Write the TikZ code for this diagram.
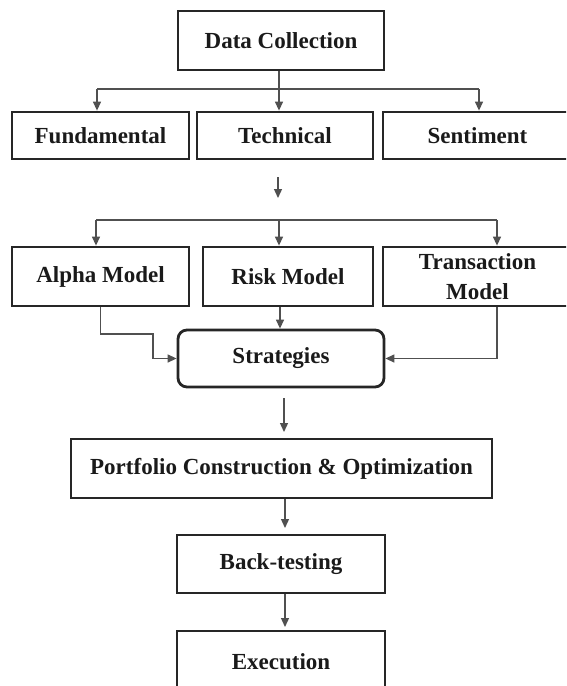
\documentclass[tikz,border=0pt]{standalone}
\usepackage{fontspec}
\setmainfont{Liberation Serif}
\usetikzlibrary{arrows.meta}
\definecolor{boxc}{HTML}{262626}
\definecolor{linec}{HTML}{505050}
\definecolor{txt}{HTML}{1A1A1A}
\begin{document}
\begin{tikzpicture}[x=1pt,y=-1pt,
  box/.style={draw=boxc, line width=2.8pt, fill=white, text=txt, inner sep=0pt, align=center,
              font=\bfseries\fontsize{23}{30}\selectfont},
  conn/.style={draw=linec, line width=1.3pt},
  arr/.style={conn, -{Triangle[length=9pt,width=8pt]}}]
\useasboundingbox (0,0) rectangle (566,686);
\clip (0,0) rectangle (566,686);
\fill[white] (0,0) rectangle (566,686);

% nodes
\node[box, minimum width=206pt, minimum height=59pt] (dc) at (281,40.5) {Data Collection};
\node[box, minimum width=177pt, minimum height=47pt] (fund) at (100.5,135.5) {Fundamental};
\node[box, minimum width=176pt, minimum height=47pt] (tech) at (285,135.5) {Technical};
\node[box, minimum width=189pt, minimum height=47pt] (sent) at (477.5,135.5) {Sentiment};
\node[box, minimum width=177pt, minimum height=59pt] (alpha) at (100.5,276.5) {Alpha Model};
\node[box, minimum width=170pt, minimum height=59pt] (risk) at (288,276.5) {Risk Model};
\node[box, minimum width=189pt, minimum height=59pt] (trans) at (477.5,276.5) {Transaction\\Model};
\node[box, rounded corners=9pt, minimum width=206pt, minimum height=57pt] (strat) at (281,358.5) {Strategies};
\node[box, minimum width=421pt, minimum height=59pt] (port) at (281.5,468.5) {Portfolio Construction \& Optimization};
\node[box, minimum width=208pt, minimum height=58pt] (back) at (281,564) {Back-testing};
\node[box, minimum width=208pt, minimum height=62pt] (exec) at (281,662) {Execution};

% first branch
\coordinate (b1) at (279,89);
\coordinate (b1l) at (97,89);
\coordinate (b1r) at (479,89);
\draw[conn] (dc.south -| b1) -- (b1);
\draw[conn] (b1l) -- (b1r);
\draw[arr] (b1l) -- (b1l |- fund.north);
\draw[arr] (b1) -- (b1 |- tech.north);
\draw[arr] (b1r) -- (b1r |- sent.north);

% free arrow between the two rows
\coordinate (m1a) at (278,177);
\coordinate (m1b) at (278,198);
\draw[arr] (m1a) -- (m1b);

% second branch
\coordinate (b2) at (279,220);
\coordinate (b2l) at (96,220);
\coordinate (b2r) at (497,220);
\draw[conn] (b2l) -- (b2r);
\draw[arr] (b2l) -- (b2l |- alpha.north);
\draw[arr] (b2) -- (b2 |- risk.north);
\draw[arr] (b2r) -- (b2r |- trans.north);

% models to strategies
\coordinate (ak) at (153,334);
\draw[arr] (alpha.south) |- (ak) |- (strat.west);
\coordinate (rk) at (280,0);
\draw[arr] (risk.south -| rk) -- (strat.north -| rk);
\coordinate (tk) at (497,0);
\draw[arr] (trans.south -| tk) |- (strat.east);

% strategies to portfolio
\coordinate (s2a) at (284,398);
\coordinate (s2b) at (284,432);
\draw[arr] (s2a) -- (s2b);

% portfolio to back-testing to execution
\coordinate (pk) at (285,0);
\coordinate (pb) at (285,528);
\draw[arr] (port.south -| pk) -- (pb);
\coordinate (be) at (285,627);
\draw[arr] (back.south -| pk) -- (be);
\end{tikzpicture}
\end{document}
